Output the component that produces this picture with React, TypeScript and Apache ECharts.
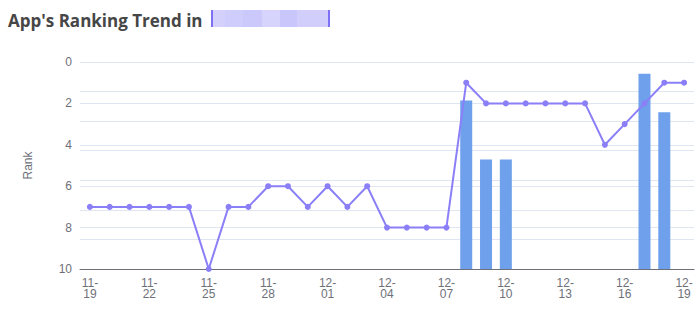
import React, { useEffect, useRef } from "react";
import * as echarts from "echarts";

const dates = [
  "11-19", "11-20", "11-21", "11-22", "11-23", "11-24", "11-25", "11-26", "11-27", "11-28", "11-29", "11-30",
  "12-01", "12-02", "12-03", "12-04", "12-05", "12-06", "12-07", "12-08", "12-09", "12-10", "12-11", "12-12",
  "12-13", "12-14", "12-15", "12-16", "12-17", "12-18", "12-19",
];
const rankValues = [7, 7, 7, 7, 7, 7, 10, 7, 7, 6, 6, 7, 6, 7, 6, 8, 8, 8, 8, 1, 2, 2, 2, 2, 2, 2, 4, 3, 2, 1, 1];
const barValues: (number | null)[] = [
  null, null, null, null, null, null, null, null, null, null, null, null,
  null, null, null, null, null, null, null, 5.7, 3.7, 3.7, null, null,
  null, null, null, null, 6.6, 5.3, null,
];
const titleText = "App's Ranking Trend in";
const rankAxisName = "Rank";
const maskShades = ["#d3d1fb", "#cfcdfc", "#cbc8fb", "#d6d4fc", "#c9c6fb", "#d1cefc"];
const maskWidths = [14, 18, 19, 18, 17, 33];

export default function App() {
  const ref = useRef<HTMLDivElement>(null);
  useEffect(() => {
    document.body.style.margin = "0";
    if (!ref.current) return;
    const chart = echarts.init(ref.current, null, { renderer: "svg" });
    let xCursor = 211;
    const maskRects: any[] = maskShades.map((c, i) => {
      const r = {
        type: "rect",
        shape: { x: xCursor, y: 10, width: maskWidths[i], height: 17 },
        style: { fill: c },
      };
      xCursor += maskWidths[i];
      return r;
    });
    maskRects.push({ type: "rect", shape: { x: 211, y: 10, width: 2, height: 17 }, style: { fill: "#7d70f5" } });
    maskRects.push({ type: "rect", shape: { x: 328, y: 10, width: 2, height: 17 }, style: { fill: "#7d70f5" } });
    chart.setOption({
      animation: false,
      title: {
        text: titleText,
        left: 3,
        top: 7,
        textStyle: { fontSize: 17, fontWeight: "bold", color: "#464646", fontFamily: "Open Sans" },
      },
      graphic: maskRects,
      grid: { left: 80, right: 6, top: 62, bottom: 40 },
      xAxis: {
        type: "category",
        data: dates,
        boundaryGap: true,
        axisLine: { onZero: false, lineStyle: { color: "#6e7079" } },
        axisTick: { interval: 2, alignWithLabel: false },
        axisLabel: {
          interval: 2,
          color: "#6e7079",
          fontSize: 12,
          lineHeight: 11,
          formatter: (v: string) => v.replace("-", "-\n"),
        },
      },
      yAxis: [
        {
          type: "value",
          inverse: true,
          min: 0,
          max: 10,
          interval: 2,
          name: rankAxisName,
          nameLocation: "middle",
          nameGap: 46,
          nameTextStyle: { color: "#6e7079", fontSize: 12 },
          axisLabel: { color: "#6e7079", fontSize: 12 },
          splitLine: { lineStyle: { color: "#e0e6f1" } },
        },
        {
          type: "value",
          min: 0,
          max: 7,
          interval: 1,
          axisLabel: { show: false },
          axisLine: { show: false },
          axisTick: { show: false },
          splitLine: { lineStyle: { color: "#e0e6f1" } },
        },
      ],
      series: [
        {
          type: "bar",
          yAxisIndex: 1,
          data: barValues,
          barWidth: 12,
          itemStyle: { color: "#6fa0ec" },
        },
        {
          type: "line",
          yAxisIndex: 0,
          data: rankValues,
          symbol: "circle",
          symbolSize: 6,
          lineStyle: { color: "#8b7ff7", width: 2 },
          itemStyle: { color: "#8b7ff7" },
        },
      ],
    });
    return () => chart.dispose();
  }, []);
  return <div ref={ref} style={{ width: 700, height: 309 }} />;
}
